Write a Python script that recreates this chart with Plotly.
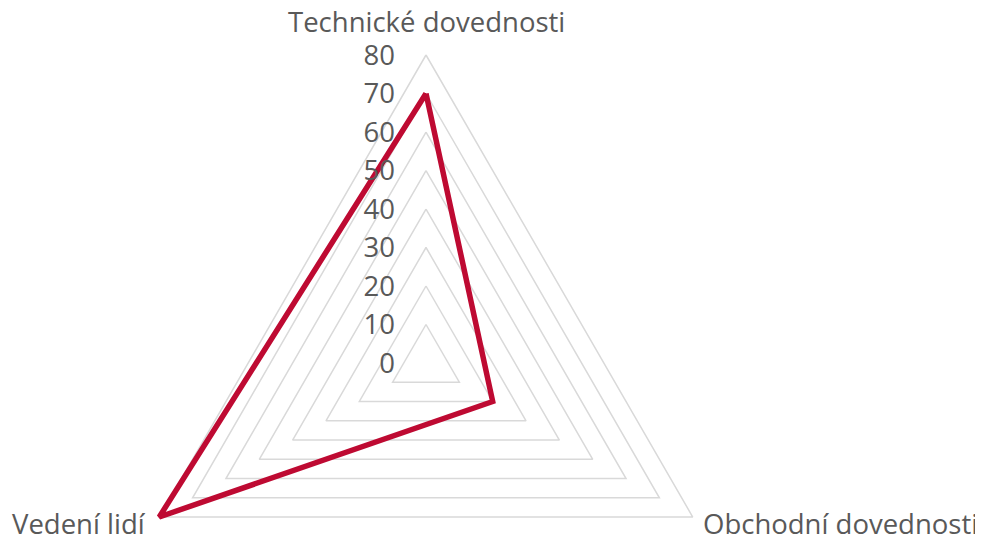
import numpy as np
import plotly.graph_objects as go

categories = ["Technické dovednosti", "Obchodní dovednosti", "Vedení lidí"]
values = [70, 20, 80]
radial_ticks = [0, 10, 20, 30, 40, 50, 60, 70, 80]

# styling / layout constants
W, H = 983, 535
PAGE_OFFSET = 8            # default body margin of the html page
CX, CY = 426 - PAGE_OFFSET, 363 - PAGE_OFFSET   # chart centre inside the figure
PX_PER_UNIT = 308 / 80     # radial scale
text_color = "#595959"
grid_color = "#D9D9D9"
line_color = "#BE0A32"
FONT = "Open Sans, Noto Sans, sans-serif"
FONT_SIZE = 27.5

# category directions: first axis points up, others follow clockwise
n = len(categories)
angles = np.deg2rad(90 - 360 / n * np.arange(n))


def to_xy(r):
    r = np.asarray(r, dtype=float)
    x = r * np.cos(angles)
    y = r * np.sin(angles)
    return np.append(x, x[0]), np.append(y, y[0])


fig = go.Figure()

# polygonal grid rings
for v in radial_ticks[1:]:
    gx, gy = to_xy([v] * n)
    fig.add_trace(go.Scatter(
        x=gx, y=gy, mode="lines",
        line=dict(color=grid_color, width=1.5),
        showlegend=False, hoverinfo="skip",
    ))

# data series
sx, sy = to_xy(values)
fig.add_trace(go.Scatter(
    x=sx, y=sy, mode="lines",
    line=dict(color=line_color, width=5.5),
    showlegend=False, hoverinfo="skip",
))

# category labels placed at the outer vertices
rmax = radial_ticks[-1]
vx, vy = to_xy([rmax] * n)
label_style = [
    dict(xanchor="center", yanchor="middle", xshift=0, yshift=34),
    dict(xanchor="left", yanchor="middle", xshift=8, yshift=-6),
    dict(xanchor="right", yanchor="middle", xshift=-11, yshift=-6),
]
for i, cat in enumerate(categories):
    fig.add_annotation(
        x=vx[i], y=vy[i], text=cat, showarrow=False,
        font=dict(family=FONT, size=FONT_SIZE, color=text_color),
        **label_style[i],
    )

x_range = [-CX / PX_PER_UNIT, (W - CX) / PX_PER_UNIT]
y_range = [-(H - CY) / PX_PER_UNIT, CY / PX_PER_UNIT]

fig.update_layout(
    width=W,
    height=H,
    paper_bgcolor="white",
    plot_bgcolor="white",
    margin=dict(l=0, r=0, t=0, b=0),
    font=dict(family=FONT, size=FONT_SIZE, color=text_color),
    showlegend=False,
    xaxis=dict(range=x_range, visible=False, fixedrange=True),
    yaxis=dict(
        range=y_range,
        anchor="free",
        position=(CX - 31) / W,
        tickmode="array",
        tickvals=radial_ticks,
        ticktext=[str(v) for v in radial_ticks],
        showgrid=False,
        zeroline=False,
        showline=False,
        ticks="",
        tickfont=dict(family=FONT, size=FONT_SIZE, color=text_color),
        fixedrange=True,
    ),
)

fig.write_html("out.html")
